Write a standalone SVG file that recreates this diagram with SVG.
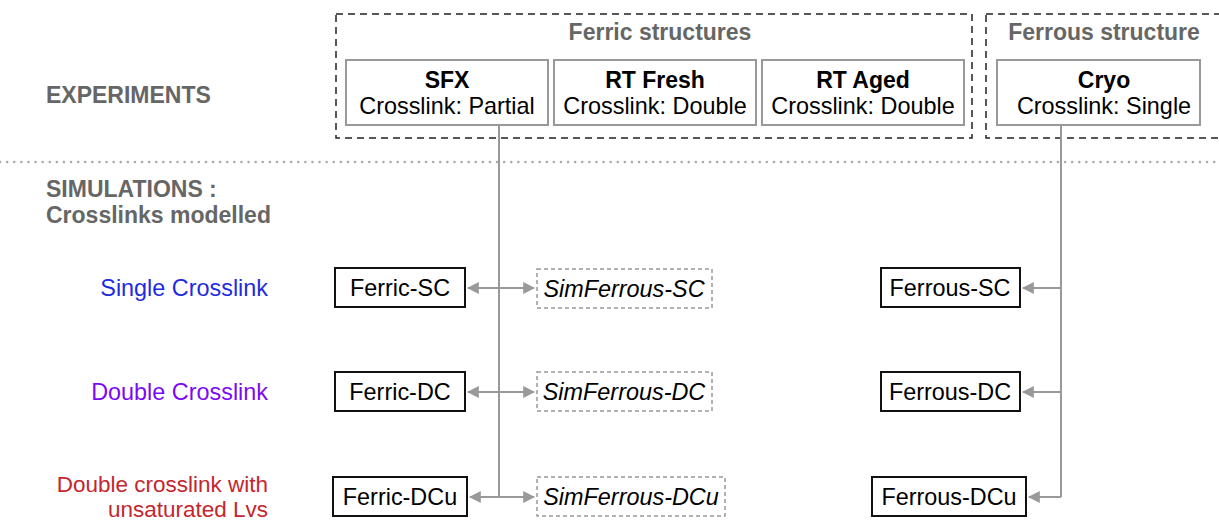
<svg xmlns="http://www.w3.org/2000/svg" width="1219" height="521" viewBox="0 0 1219 521">
<style>
text{font-family:"Liberation Sans",Arial,sans-serif;}
.grp{fill:none;stroke:#222;stroke-width:1.5;stroke-dasharray:7,5;}
.exp{fill:#fff;stroke:#999;stroke-width:2;}
.node{fill:#fff;stroke:#111;stroke-width:2;}
.sim{fill:#fff;stroke:#999;stroke-width:1.5;stroke-dasharray:4,3;}
.gt{fill:#666;font-weight:bold;font-size:23px;}
.bt{fill:#000;font-weight:bold;font-size:23px;text-anchor:middle;}
.nt{fill:#000;font-size:23.4px;text-anchor:middle;}
.it{fill:#000;font-size:23.4px;font-style:italic;text-anchor:middle;}
.lbl{font-size:23.4px;text-anchor:end;}
.lbl2{font-size:22.5px;text-anchor:end;}
.con{fill:none;stroke:#999;stroke-width:2;}
</style>
<defs>
<marker id="ah" viewBox="0 0 10 10" refX="9" refY="5" markerWidth="6" markerHeight="6" orient="auto-start-reverse">
<path d="M0,0 L10,5 L0,10 z" fill="#999"/>
</marker>
</defs>

<g id="labels">
<text class="gt" x="46" y="103">EXPERIMENTS</text>
<line x1="0" y1="162" x2="1219" y2="162" stroke="#aaa" stroke-width="2.5" stroke-dasharray="0.1,7" stroke-linecap="round"/>
<text class="gt" x="46" y="197">SIMULATIONS :</text>
<text class="gt" x="46" y="223">Crosslinks modelled</text>
<text class="lbl" x="268" y="296" fill="#1f2be0">Single Crosslink</text>
<text class="lbl" x="268" y="400" fill="#7a0af5">Double Crosslink</text>
<text class="lbl2" x="268" y="492" fill="#c4262e">Double crosslink with</text>
<text class="lbl2" x="268" y="517" fill="#c4262e">unsaturated Lvs</text>
</g>

<g id="ferric-group">
<rect class="grp" x="336" y="14" width="636" height="124"/>
<text class="gt" x="660" y="40" text-anchor="middle">Ferric structures</text>
</g>
<g id="ferrous-group">
<rect class="grp" x="986" y="14" width="240" height="124"/>
<text class="gt" x="1104" y="40" text-anchor="middle">Ferrous structure</text>
</g>

<g id="connectors">
<polyline class="con" points="499,125 499,497"/>
<line class="con" x1="468" y1="288" x2="534" y2="288" marker-start="url(#ah)" marker-end="url(#ah)"/>
<line class="con" x1="468" y1="392" x2="534" y2="392" marker-start="url(#ah)" marker-end="url(#ah)"/>
<line class="con" x1="470" y1="497" x2="534" y2="497" marker-start="url(#ah)" marker-end="url(#ah)"/>
<polyline class="con" points="1061,125 1061,497"/>
<line class="con" x1="1061" y1="288" x2="1023" y2="288" marker-end="url(#ah)"/>
<line class="con" x1="1061" y1="392" x2="1023" y2="392" marker-end="url(#ah)"/>
<line class="con" x1="1061" y1="497" x2="1029" y2="497" marker-end="url(#ah)"/>
</g>

<g id="sfx">
<rect class="exp" x="346" y="60" width="202" height="65"/>
<text class="bt" x="447" y="88">SFX</text>
<text class="nt" x="447" y="114">Crosslink: Partial</text>
</g>
<g id="rt-fresh">
<rect class="exp" x="554" y="60" width="202" height="65"/>
<text class="bt" x="655" y="88">RT Fresh</text>
<text class="nt" x="655" y="114">Crosslink: Double</text>
</g>
<g id="rt-aged">
<rect class="exp" x="762" y="60" width="202" height="65"/>
<text class="bt" x="863" y="88">RT Aged</text>
<text class="nt" x="863" y="114">Crosslink: Double</text>
</g>
<g id="cryo">
<rect class="exp" x="997" y="60" width="203" height="65"/>
<text class="bt" x="1104" y="88">Cryo</text>
<text class="nt" x="1104" y="114">Crosslink: Single</text>
</g>

<g id="ferric-sc">
<rect class="node" x="335" y="268" width="130" height="39"/>
<text class="nt" x="400" y="296">Ferric-SC</text>
</g>
<g id="ferric-dc">
<rect class="node" x="335" y="372" width="130" height="39"/>
<text class="nt" x="400" y="400">Ferric-DC</text>
</g>
<g id="ferric-dcu">
<rect class="node" x="333" y="477" width="134" height="39"/>
<text class="nt" x="400" y="505">Ferric-DCu</text>
</g>

<g id="simferrous-sc">
<rect class="sim" x="537" y="269" width="175" height="39"/>
<text class="it" x="624" y="297">SimFerrous-SC</text>
</g>
<g id="simferrous-dc">
<rect class="sim" x="537" y="372" width="175" height="39"/>
<text class="it" x="624" y="400">SimFerrous-DC</text>
</g>
<g id="simferrous-dcu">
<rect class="sim" x="537" y="477" width="188" height="39"/>
<text class="it" x="631" y="505">SimFerrous-DCu</text>
</g>

<g id="ferrous-sc">
<rect class="node" x="881" y="268" width="139" height="39"/>
<text class="nt" x="950" y="296">Ferrous-SC</text>
</g>
<g id="ferrous-dc">
<rect class="node" x="881" y="372" width="139" height="39"/>
<text class="nt" x="950" y="400">Ferrous-DC</text>
</g>
<g id="ferrous-dcu">
<rect class="node" x="872" y="477" width="154" height="39"/>
<text class="nt" x="949" y="505">Ferrous-DCu</text>
</g>
</svg>
